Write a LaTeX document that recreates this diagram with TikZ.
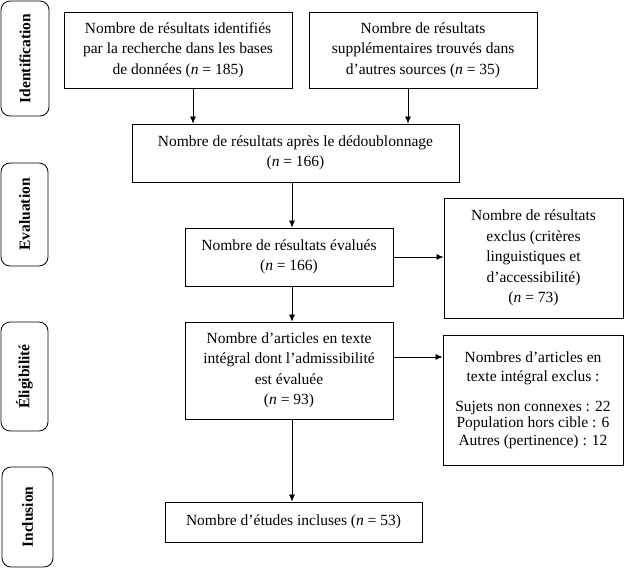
\documentclass[tikz,border=0pt]{standalone}
\usepackage{fontspec}
\setmainfont{Liberation Serif}
\usetikzlibrary{arrows.meta}
\begin{document}
\begin{tikzpicture}[x=1pt,y=-1pt,
  box/.style={draw=black, line width=0.8pt, align=center, inner sep=2pt,
    font=\fontsize{15.5}{20.5}\selectfont},
  phase/.style={draw=black, line width=0.8pt, rounded corners=9pt, rotate=90,
    inner sep=0pt, font=\fontsize{15.5}{18}\selectfont\bfseries},
  arr/.style={-{Latex[length=7pt,width=6pt]}, line width=0.7pt}]
\useasboundingbox (0,0) rectangle (628,569);
% phase labels
\node[phase, minimum width=115pt, minimum height=48pt] (p1) at (25,58.5) {Identification};
\node[phase, minimum width=103pt, minimum height=47pt] (p2) at (24.5,214.5) {Evaluation};
\node[phase, minimum width=109pt, minimum height=47pt] (p3) at (24.5,376.5) {Éligibilité};
\node[phase, minimum width=100pt, minimum height=51pt] (p4) at (27.5,517) {Inclusion};
% boxes
\node[box, minimum width=228pt, minimum height=76pt] (b1) at (178,50)
  {Nombre de résultats identifiés\\par la recherche dans les bases\\de données (\textit{n} = 185)};
\node[box, minimum width=228pt, minimum height=76pt] (b2) at (423,50)
  {Nombre de résultats\\supplémentaires trouvés dans\\d’autres sources (\textit{n} = 35)};
\node[box, minimum width=327pt, minimum height=58pt] (b3) at (295.5,153)
  {Nombre de résultats après le dédoublonnage\\(\textit{n} = 166)};
\node[box, minimum width=208pt, minimum height=58pt] (b4) at (289,257)
  {Nombre de résultats évalués\\(\textit{n} = 166)};
\node[box, minimum width=179pt, minimum height=120pt] (b5) at (533.5,258)
  {Nombre de résultats\\exclus (critères\\linguistiques et\\d’accessibilité)\\(\textit{n} = 73)};
\node[box, minimum width=208pt, minimum height=97pt] (b6) at (289,370.5)
  {Nombre d’articles en texte\\intégral dont l’admissibilité\\est évaluée\\(\textit{n} = 93)};
\node[box, minimum width=180pt, minimum height=130pt] (b7) at (533,400)
  {Nombres d’articles en\\[-1pt]texte intégral exclus :\\[9pt]Sujets non connexes : 22\\[-4pt]Population hors cible : 6\\[-3pt]Autres (pertinence) : 12};
\node[box, minimum width=257pt, minimum height=40pt] (b8) at (293.5,522)
  {Nombre d’études incluses (\textit{n} = 53)};
% connectors
\coordinate (xa) at (193,0);
\coordinate (xb) at (408,0);
\coordinate (xc) at (292,0);
\coordinate (ya) at (0,257);
\coordinate (yb) at (0,357);
\draw[arr] (b1.south -| xa) -- (b3.north -| xa);
\draw[arr] (b2.south -| xb) -- (b3.north -| xb);
\draw[arr] (b3.south -| xc) -- (b4.north -| xc);
\draw[arr] (b4.south -| xc) -- (b6.north -| xc);
\draw[arr] (b6.south -| xc) -- (b8.north -| xc);
\draw[arr] (b4.east |- ya) -- (b5.west |- ya);
\draw[arr] (b6.east |- yb) -- (b7.west |- yb);
\end{tikzpicture}
\end{document}
